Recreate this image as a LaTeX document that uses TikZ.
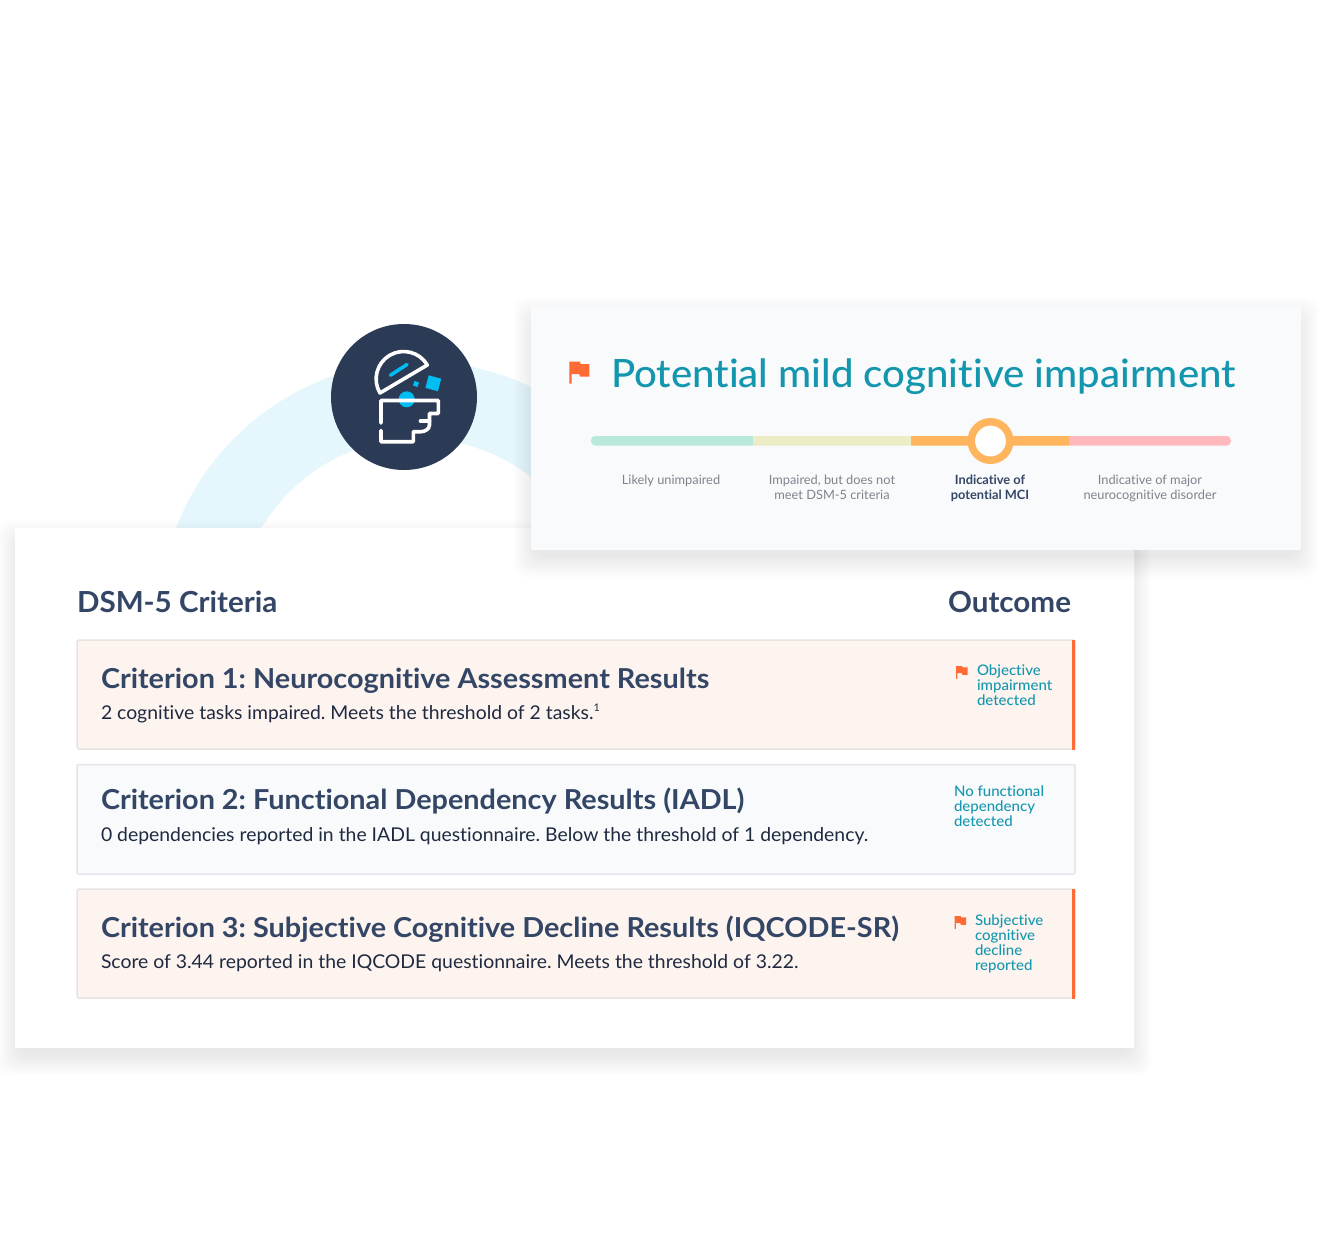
\documentclass[tikz,border=0pt]{standalone}
\usepackage{fontspec}
\setmainfont[Ligatures=NoCommon]{Lato}
\newfontfamily\latomed[Ligatures=NoCommon,FakeStretch=1.029]{Lato Medium}
\newfontfamily\headbold[Ligatures=NoCommon,FakeStretch=1.048]{Lato Bold}
\newfontfamily\colbold[Ligatures=NoCommon,FakeStretch=1.02]{Lato Bold}
\newfontfamily\subreg[Ligatures=NoCommon,FakeStretch=1.02]{Lato}
\usetikzlibrary{calc}
\definecolor{navy}{HTML}{344666}
\definecolor{dark}{HTML}{2B3A55}
\definecolor{subt}{HTML}{1F2A40}
\definecolor{teal1}{HTML}{1497AE}
\definecolor{flagc}{HTML}{FF6B35}
\definecolor{ring}{HTML}{E5F7FD}
\definecolor{cyan1}{HTML}{00BDF2}
\definecolor{panel}{HTML}{F8FAFC}
\definecolor{peach}{HTML}{FDF3EF}
\definecolor{greyt}{HTML}{7E838C}
\definecolor{edgeA}{HTML}{E6E3E2}
\definecolor{edgeB}{HTML}{E2E5E9}
\definecolor{segA}{HTML}{B9E8DD}
\definecolor{segB}{HTML}{ECEDC6}
\definecolor{segC}{HTML}{FFB55E}
\definecolor{segD}{HTML}{FFB8BB}
\newcommand{\softshadow}[4]{%
  \foreach \k in {-4,-3,...,18}{
    \fill[black,opacity=0.0035,rounded corners=12pt]
      ({#1-(\k)},{#2-(\k)+10}) rectangle ({#3+(\k)},{#4+(\k)+10});
  }}
\newcommand{\flagmark}[3]{%
  \fill[flagc,shift={(#1,#2)},scale=#3]
   (0,0)--(10.7,0)--(11.4,2.3)--(20,2.3)--(20,15)--(10.7,15)--(10,12.3)--(2.4,12.3)--(2.4,22)--(0,22)--cycle;}
\tikzset{
  x=1pt,y=-1pt,
  txt/.style={inner sep=0pt,outer sep=0pt},
  rowhead/.style={txt,anchor=base west,text=navy,font=\fontsize{27.5}{30}\selectfont\headbold},
  rowsub/.style={txt,anchor=base west,text=subt,font=\fontsize{19}{22}\selectfont\subreg},
  outc/.style={txt,anchor=north west,align=left,text=teal1,font=\fontsize{14.6}{15}\selectfont\latomed},
  scale1/.style={txt,anchor=north,align=center,text=greyt,font=\fontsize{12.8}{15}\selectfont},
  colhead/.style={txt,anchor=base,text=navy,font=\fontsize{29}{32}\selectfont\colbold},
  rowpeach/.style={fill=peach,draw=edgeA,line width=1.5pt,rounded corners=2pt},
  rowblue/.style={fill=panel,draw=edgeB,line width=1.5pt,rounded corners=2pt},
  accent/.style={draw=flagc,line width=3pt},
  iconline/.style={draw=white,line width=3.6pt,line cap=round,line join=round},
}
\begin{document}
\frenchspacing
\begin{tikzpicture}
\useasboundingbox (0,0) rectangle (1334,1256);
\fill[white] (0,0) rectangle (1334,1256);
% ring
\fill[ring,even odd rule] (418.7,621.5) circle[radius=260] (418.7,621.5) circle[radius=183];
% lower card
\softshadow{15}{528}{1134}{1048}
\fill[white] (15,528) rectangle (1134,1048);
% upper card
\softshadow{531}{305}{1301}{550}
\fill[panel,rounded corners=2pt] (531,305) rectangle (1301,550);
% icon
\fill[dark] (404,397) circle[radius=73];
\fill[cyan1] (406.7,399.3) circle[radius=8];
\draw[iconline] (427.3,365) arc[start angle=-30.6,end angle=-210.6,radius=27.5] -- cycle;
\draw[draw=cyan1,line width=3.6pt,line cap=round] (390.5,375.2) -- (407,364.5);
\fill[cyan1,rotate around={-15:(433.3,383.3)}] (426.8,376.8) rectangle (439.8,389.8);
\fill[cyan1,rotate around={-20:(416,384)}] (413.6,381.6) rectangle (418.4,386.4);
\draw[iconline] (381,423) -- (381,400.5) -- (438.3,400.5) -- (438.3,413.5) -- (429.5,413.5) -- (429.5,425) .. controls (429.5,429) and (425,431.7) .. (421,431.7) -- (413.3,431.7) -- (413.3,441.7) -- (381,441.7) -- (381,430.5);
\draw[iconline] (420.5,421) -- (429.5,421);
% top card content
\flagmark{569.3}{361.7}{1}
\node[txt,anchor=base west,text=teal1,font=\fontsize{39}{42}\selectfont\latomed] (title) at (611,387) {Potential mild cognitive impairment};
\begin{scope}
\clip[rounded corners=4pt] (591,436) rectangle (1231,445.5);
\fill[segA] (591,436) rectangle (753,445.5);
\fill[segB] (753,436) rectangle (911,445.5);
\fill[segC] (911,436) rectangle (1069,445.5);
\fill[segD] (1069,436) rectangle (1231,445.5);
\end{scope}
\node[circle,fill=white,draw=segC,line width=7.5pt,minimum size=38.5pt,inner sep=0pt] (marker) at (990.5,441) {};
\node[scale1] (l1) at (671,475) {Likely unimpaired};
\node[scale1] (l2) at (832,475) {Impaired, but does not\\meet DSM-5 criteria};
\node[scale1,text=navy,font=\fontsize{12.8}{15}\selectfont\bfseries] (l3) at (990,475) {Indicative of\\potential MCI};
\node[scale1] (l4) at (1150,475) {Indicative of major\\neurocognitive disorder};
% lower card content
\node[colhead,anchor=base west] (dsm) at (77,612.5) {DSM-5 Criteria};
\node[colhead,anchor=base east] (outc) at (1071,612.5) {Outcome};
% rows
\path[rowpeach] (77,640) rectangle (1075,749);
\draw[accent] (1073.5,639.5) -- (1073.5,749.5);
\path[rowblue] (77,764.5) rectangle (1075,874);
\path[rowpeach] (77,889) rectangle (1075,998);
\draw[accent] (1073.5,888.5) -- (1073.5,998.5);
\node[rowhead] (h1) at (101,688) {Criterion 1: Neurocognitive Assessment Results};
\node[rowsub] (s1) at (101,719) {2 cognitive tasks impaired. Meets the threshold of 2 tasks.\raisebox{8pt}{\fontsize{10.5}{11}\selectfont 1}};
\node[rowhead] (h2) at (101,809.5) {Criterion 2: Functional Dependency Results (IADL)};
\node[rowsub] (s2) at (101,841) {0 dependencies reported in the IADL questionnaire. Below the threshold of 1 dependency.};
\node[rowhead] (h3) at (101,937) {Criterion 3: Subjective Cognitive Decline Results (IQCODE-SR)};
\node[rowsub] (s3) at (101,968) {Score of 3.44 reported in the IQCODE questionnaire. Meets the threshold of 3.22.};
\flagmark{956}{666}{0.585}
\node[outc] (o1) at (977,665) {Objective\\impairment\\detected};
\node[outc] (o2) at (954,786) {No functional\\dependency\\detected};
\flagmark{954.5}{916}{0.585}
\node[outc] (o3) at (975,915) {Subjective\\cognitive\\decline\\reported};
\end{tikzpicture}
\end{document}
